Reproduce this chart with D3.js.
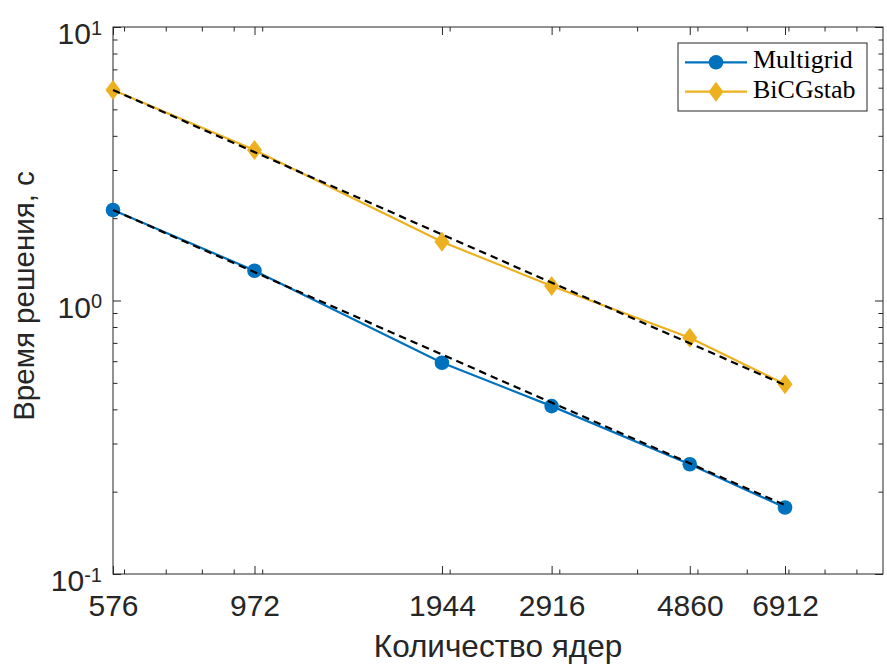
<!DOCTYPE html>
<html><head><meta charset="utf-8">
<script src="https://cdn.jsdelivr.net/npm/d3@7"></script>
<style>body{margin:0;background:#fff}svg{display:block}</style>
</head><body>
<svg id="c" width="887" height="664"></svg>
<script>
const cores = [576, 972, 1944, 2916, 4860, 6912];
const multigrid = [2.142, 1.285, 0.592, 0.411, 0.252, 0.175];
const bicgstab = [5.886, 3.55, 1.641, 1.13, 0.731, 0.494];
const idealCores = [576, 6912];
const idealMultigrid = [2.142, 0.1785];
const idealBicgstab = [5.886, 0.4905];
const xMinor = [600,700,800,900,1000,2000,3000,4000,5000,6000,7000,8000,9000];
const yMajor = [0.1, 1, 10];
const yMajorExp = ["-1", "0", "1"];
const yMinor = [0.2,0.3,0.4,0.5,0.6,0.7,0.8,0.9,2,3,4,5,6,7,8,9];
const seriesNames = ["Multigrid", "BiCGstab"];
const colors = ["#0072BD", "#EDB120"];

const L = 113, R = 883, T = 27, B = 574;
const svg = d3.select("#c");
const x = d3.scaleLog().domain([576, 9930]).range([L, R]);
const y = d3.scaleLog().domain([0.1, 10]).range([B, T]);
const axC = "#262626";
const font = "'Liberation Sans', Arial, Helvetica, sans-serif";

svg.append("rect").attr("x", L).attr("y", T).attr("width", R-L).attr("height", B-T).attr("fill", "#fff");

function styleAxis(g) {
  g.select(".domain").remove();
  g.selectAll("line").attr("stroke", axC).attr("stroke-width", 1);
  g.selectAll("text").attr("fill", axC).attr("font-family", font).attr("font-size", 30);
}
// bottom
svg.append("g").attr("transform", `translate(0,${B})`)
  .call(d3.axisBottom(x).tickValues(cores).tickFormat(d3.format("d")).tickSize(-8).tickPadding(21))
  .call(styleAxis);
svg.append("g").attr("transform", `translate(0,${B})`)
  .call(d3.axisBottom(x).tickValues(xMinor).tickFormat("").tickSize(-4.5)).call(styleAxis);
// top
svg.append("g").attr("transform", `translate(0,${T})`)
  .call(d3.axisTop(x).tickValues(cores).tickFormat("").tickSize(-8)).call(styleAxis);
svg.append("g").attr("transform", `translate(0,${T})`)
  .call(d3.axisTop(x).tickValues(xMinor).tickFormat("").tickSize(-4.5)).call(styleAxis);
// left
const ly = svg.append("g").attr("transform", `translate(${L},0)`)
  .call(d3.axisLeft(y).tickValues(yMajor).tickFormat("").tickSize(-8)).call(styleAxis);
ly.selectAll(".tick").each(function(d, i) {
  const t = d3.select(this).select("text");
  t.attr("x", -11).attr("dy", null).attr("y", 16.5).attr("text-anchor", "end");
  t.append("tspan").text("10");
  t.append("tspan").attr("dy", -9.5).attr("font-size", 20).text(yMajorExp[i]);
});
svg.append("g").attr("transform", `translate(${L},0)`)
  .call(d3.axisLeft(y).tickValues(yMinor).tickFormat("").tickSize(-4.5)).call(styleAxis);
// right
svg.append("g").attr("transform", `translate(${R},0)`)
  .call(d3.axisRight(y).tickValues(yMajor).tickFormat("").tickSize(-8)).call(styleAxis);
svg.append("g").attr("transform", `translate(${R},0)`)
  .call(d3.axisRight(y).tickValues(yMinor).tickFormat("").tickSize(-4.5)).call(styleAxis);
// box
svg.append("rect").attr("x", L).attr("y", T).attr("width", R-L).attr("height", B-T)
  .attr("fill", "none").attr("stroke", axC).attr("stroke-width", 1);

// series
const line = d3.line().x(d => x(d[0])).y(d => y(d[1]));
const data = [multigrid, bicgstab];
data.forEach((vals, si) => {
  const pts = cores.map((c, i) => [c, vals[i]]);
  svg.append("path").attr("d", line(pts)).attr("fill", "none")
    .attr("stroke", colors[si]).attr("stroke-width", 2.2);
  pts.forEach(p => drawMarkerIn(svg, si, x(p[0]), y(p[1])));
});
function drawMarkerIn(g, si, cx, cy) {
  if (si === 0) g.append("circle").attr("cx", cx).attr("cy", cy).attr("r", 7.3).attr("fill", colors[0]);
  else g.append("path").attr("d", `M${cx},${cy-10}L${cx+7.5},${cy}L${cx},${cy+10}L${cx-7.5},${cy}Z`).attr("fill", colors[1]);
}
[idealMultigrid, idealBicgstab].forEach(vals => {
  const pts = idealCores.map((c, i) => [c, vals[i]]);
  svg.append("path").attr("d", line(pts)).attr("fill", "none")
    .attr("stroke", "#000").attr("stroke-width", 2.2).attr("stroke-dasharray", "7.5,5");
});

// axis labels
svg.append("text").attr("x", 498).attr("y", 657).attr("text-anchor", "middle")
  .attr("font-family", font).attr("font-size", 31.5).attr("fill", axC).text("Количество ядер");
svg.append("text").attr("transform", `translate(34,296) rotate(-90)`).attr("text-anchor", "middle")
  .attr("font-family", font).attr("font-size", 29.5).attr("fill", axC).text("Время решения, с");

// legend
const lg = svg.append("g");
lg.append("rect").attr("x", 678).attr("y", 43).attr("width", 189).attr("height", 68)
  .attr("fill", "#fff").attr("stroke", axC).attr("stroke-width", 1);
seriesNames.forEach((n, i) => {
  const ry = 62.3 + i * 29.4;
  lg.append("line").attr("x1", 685).attr("x2", 747).attr("y1", ry).attr("y2", ry)
    .attr("stroke", colors[i]).attr("stroke-width", 2.2);
  drawMarkerIn(lg, i, 716, ry);
  lg.append("text").attr("x", 753).attr("y", ry + 6).attr("font-family", "'Liberation Serif', 'Times New Roman', serif")
    .attr("font-size", 26).attr("fill", "#000").text(n);
});
</script>
</body></html>
